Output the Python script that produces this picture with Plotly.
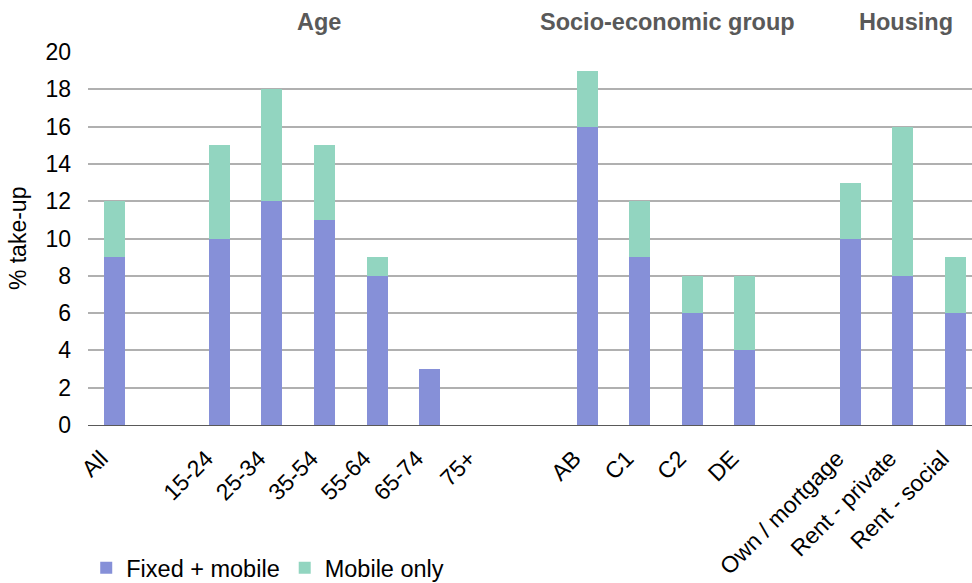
import plotly.graph_objects as go

# Category slots (blank slots separate the groups)
categories = ["All", " ", "15-24", "25-34", "35-54", "55-64", "65-74", "75+", "  ",
              "AB", "C1", "C2", "DE", "   ",
              "Own / mortgage", "Rent - private", "Rent - social"]
fixed_mobile = [9, None, 10, 12, 11, 8, 3, 0, None, 16, 9, 6, 4, None, 10, 8, 6]
mobile_only = [3, None, 5, 6, 4, 1, 0, 0, None, 3, 3, 2, 4, None, 3, 8, 3]

group_titles = ["Age", "Socio-economic group", "Housing"]
group_positions = [3.9, 10.53, 15.06]

y_ticks = list(range(0, 21, 2))

FONT = "Liberation Sans, Arial, sans-serif"

fig = go.Figure()
fig.add_trace(go.Bar(x=list(range(len(categories))), y=fixed_mobile, name="Fixed + mobile",
                     marker=dict(color="#8690D8", line=dict(width=0)), width=0.4))
fig.add_trace(go.Bar(x=list(range(len(categories))), y=mobile_only, name="Mobile only",
                     marker=dict(color="#92D5C0", line=dict(width=0)), width=0.4))

# Group headings above the plot
for title, pos in zip(group_titles, group_positions):
    fig.add_annotation(x=pos, y=1.08, xref="x", yref="paper", text=f"<b>{title}</b>",
                       showarrow=False, font=dict(size=23.5, color="#595959", family=FONT),
                       yanchor="middle")

# Y axis title
fig.add_annotation(x=-0.0792, y=0.501, xref="paper", yref="paper", text="% take-up",
                   textangle=-90, showarrow=False, font=dict(size=23, color="black", family=FONT),
                   xanchor="center", yanchor="middle")

fig.update_layout(
    barmode="stack",
    width=972, height=583,
    margin=dict(l=88, r=0, t=52, b=158, autoexpand=False),
    paper_bgcolor="white", plot_bgcolor="white",
    font=dict(family=FONT, size=22, color="black"),
    showlegend=True,
    legend=dict(orientation="h", x=-0.002, y=-0.383, xanchor="left", yanchor="middle",
                font=dict(size=23.5), itemwidth=30, traceorder="normal",
                bgcolor="rgba(0,0,0,0)"),
    xaxis=dict(
        tickmode="array", tickvals=list(range(len(categories))), ticktext=categories,
        tickangle=-45, range=[-0.5, 16.32], showgrid=False, ticks="",
        showline=True, linecolor="#595959", linewidth=1,
        tickfont=dict(size=23), zeroline=False, automargin=False,
        ticklabelstandoff=10, ticklabelshift=-13,
    ),
    yaxis=dict(
        range=[0, 20], tickvals=y_ticks, showgrid=True, gridcolor="#B0B0B0",
        gridwidth=2, zeroline=False, ticks="", tickfont=dict(size=23),
        automargin=False, ticklabelstandoff=16,
    ),
)

fig.write_html("out.html")
